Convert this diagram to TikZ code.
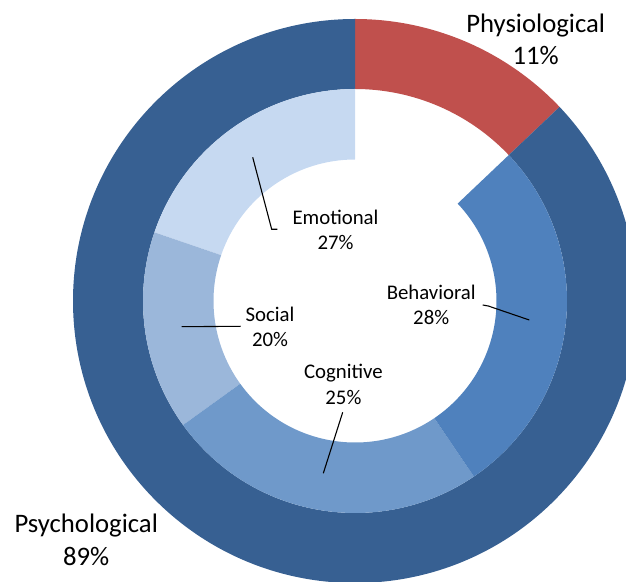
\documentclass[tikz,border=0pt]{standalone}
\usepackage{fontspec}
\setmainfont{Carlito}
\usetikzlibrary{calc}
\definecolor{psych}{RGB}{55,96,146}
\definecolor{physio}{RGB}{192,80,77}
\definecolor{behav}{RGB}{79,129,189}
\definecolor{cogn}{RGB}{111,153,202}
\definecolor{soci}{RGB}{155,183,218}
\definecolor{emot}{RGB}{198,217,241}
\newcommand\ringseg[5]{%
  \fill[#1] ($(C)+(#2:#5)$) arc[start angle=#2,end angle=#3,radius=#5]
    -- ($(C)+(#3:#4)$) arc[start angle=#3,end angle=#2,radius=#4] -- cycle;}
\tikzset{
  outlbl/.style={font=\fontsize{26.7}{32.6}\selectfont, align=center, anchor=base, inner sep=0pt},
  inlbl/.style={font=\fontsize{20.8}{25.5}\selectfont, align=center, anchor=base, inner sep=0pt},
  leader/.style={draw=black, line width=1.1pt}
}
\begin{document}
\begin{tikzpicture}[x=1pt,y=1pt]
\useasboundingbox (0,0) rectangle (626,581);
\clip (0,0) rectangle (626,581);
\coordinate (C) at (355,280);
% outer ring
\ringseg{physio}{43.5}{90}{212}{282}
\ringseg{psych}{90}{403.5}{212}{282}
% inner ring
\ringseg{emot}{90}{161.1}{141.5}{212}
\ringseg{soci}{161.1}{215.8}{141.5}{212}
\ringseg{cogn}{215.8}{304.1}{141.5}{212}
\ringseg{behav}{304.1}{403.5}{141.5}{212}
% labels (anchor = baseline of the last line)
\node[outlbl] (physlbl) at (535.7,516) {Physiological\\11\%};
\node[outlbl] (psychlbl) at (86.2,16) {Psychological\\89\%};
\node[inlbl] (emotlbl) at (335.5,331) {Emotional\\27\%};
\node[inlbl] (socilbl) at (270,234.3) {Social\\20\%};
\node[inlbl] (cognlbl) at (343.4,176.7) {Cognitive\\25\%};
\node[inlbl] (behavlbl) at (431.2,256) {Behavioral\\28\%};
% leader lines
\coordinate (emA) at (252.7,423.7);
\coordinate (emB) at (271.7,351.7);
\coordinate (emC) at (277.3,351.7);
\coordinate (soA) at (181.7,254.3);
\coordinate (soB) at (240.7,254.7);
\coordinate (coA) at (342.7,168.7);
\coordinate (coB) at (323.3,107.7);
\coordinate (beA) at (482.7,276);
\coordinate (beB) at (488.3,275);
\coordinate (beC) at (529.3,261);
\draw[leader] (emA) -- (emB) -- (emC);
\draw[leader] (soA) -- (soB);
\draw[leader] (coA) -- (coB);
\draw[leader] (beA) -- (beB) -- (beC);
\end{tikzpicture}
\end{document}
